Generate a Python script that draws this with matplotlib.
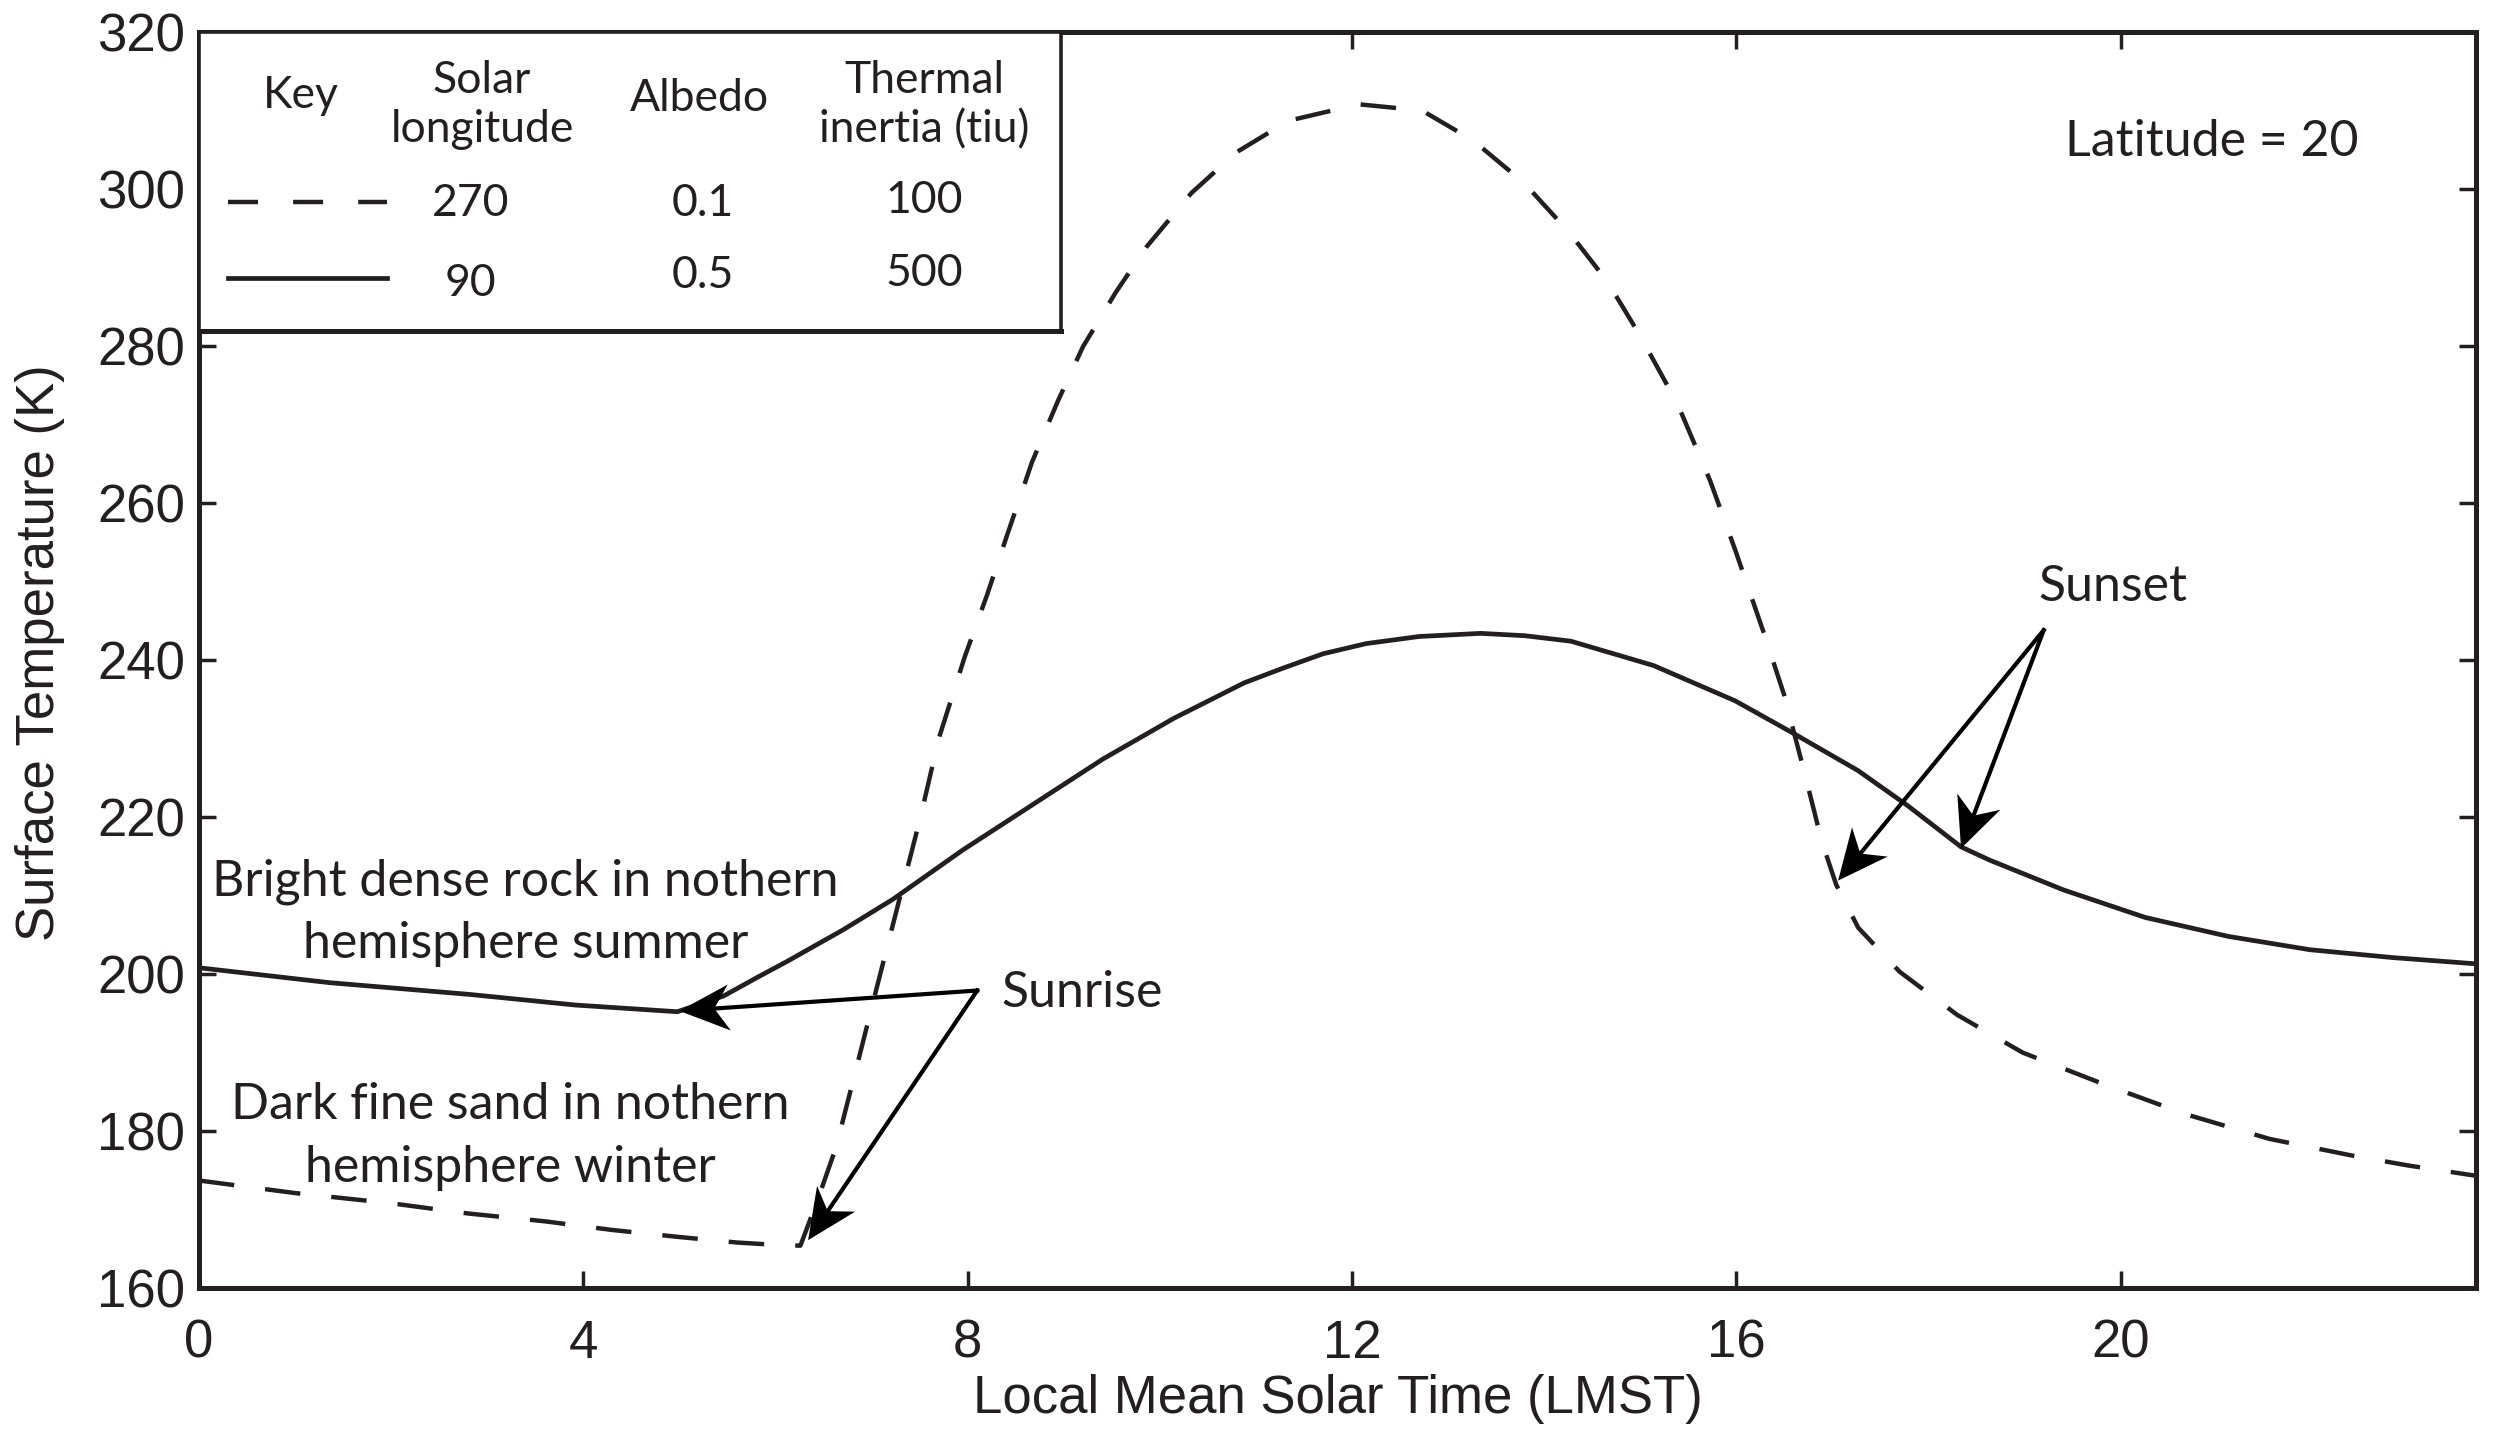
import numpy as np
import matplotlib
matplotlib.use("Agg")
import matplotlib.pyplot as plt
from matplotlib.patches import Rectangle, Polygon
from matplotlib.transforms import IdentityTransform

# Verdier lest av figuren (tid i LMST, temperatur i K)
time_sand = [0, 1.0, 2.0, 2.8, 3.6, 4.3, 5.0, 5.6, 6.0, 6.26, 6.45, 6.63, 6.85, 7.07,
             7.29, 7.51, 7.7, 7.97, 8.2, 8.4, 8.67, 8.94, 9.2, 9.54, 9.86, 10.33, 10.8,
             11.34, 12.07, 12.73, 13.26, 13.79, 14.26, 14.66, 15.0, 15.39, 15.73, 15.99,
             16.3, 16.5, 16.72, 16.89, 17.04, 17.27, 17.7, 18.3, 18.98, 19.84, 20.69,
             21.55, 22.4, 23.0, 23.7]
temp_sand = [173.7, 172.1, 170.8, 169.5, 168.5, 167.4, 166.5, 165.8, 165.5, 165.4, 171.6,
             177.9, 188.4, 199.0, 209.5, 220.0, 230.0, 240.4, 248.2, 255.5, 265.2, 273.0,
             279.9, 286.8, 292.6, 299.5, 304.7, 308.7, 310.8, 310.0, 306.2, 300.8, 294.5,
             288.2, 281.3, 272.6, 262.8, 254.0, 243.0, 235.5, 225.2, 216.9, 211.4, 205.9,
             200.3, 194.8, 190.0, 185.9, 182.1, 179.0, 176.9, 175.6, 174.3]

time_rock = [0, 1.36, 2.82, 3.92, 4.98, 5.46, 5.8, 6.12, 6.7, 7.22, 7.95, 8.68, 9.41,
             10.15, 10.88, 11.29, 11.7, 12.15, 12.7, 13.34, 13.8, 14.28, 15.14, 15.99,
             16.59, 17.27, 17.79, 18.34, 18.64, 19.41, 20.26, 21.12, 21.97, 22.83, 23.7]
temp_rock = [200.8, 198.9, 197.4, 196.05, 195.2, 197.2, 199.5, 201.6, 205.6, 209.5, 215.8,
             221.6, 227.4, 232.6, 237.1, 239.0, 240.8, 242.1, 243.0, 243.4, 243.1, 242.4,
             239.3, 234.8, 230.7, 225.9, 221.4, 216.2, 214.5, 210.7, 207.2, 204.8, 203.1,
             202.1, 201.3]

x_ticks = [0, 4, 8, 12, 16, 20]
y_ticks = [160, 180, 200, 220, 240, 260, 280, 300, 320]

key_header = ["Key", "Solar\nlongitude", "Albedo", "Thermal\ninertia (tiu)"]
key_sand = ["270", "0.1", "100"]
key_rock = ["90", "0.5", "500"]

# Piler: soloppgang og solnedgang
sunrise_from = (8.1, 197.9)
sunrise_to = [(5.0, 195.3), (6.34, 166.1)]
sunset_from = (19.2, 243.8)
sunset_to = [(17.06, 211.9), (18.34, 216.0)]

AX_FONT = "Liberation Sans"
TXT_FONT = "Lato"
INK = "#231f20"

fig = plt.figure(figsize=(24.93, 14.31), dpi=100)
ax = fig.add_axes([0.0798, 0.0999, 0.9134, 0.8777])

ax.plot(time_sand, temp_sand, color=INK, lw=3.2, dashes=(8, 7))
ax.plot(time_rock, temp_rock, color=INK, lw=3.4)

ax.set_xlim(0, 23.7)
ax.set_ylim(160, 320)
ax.set_xticks(x_ticks)
ax.set_yticks(y_ticks)
ax.tick_params(direction="in", length=12, width=2.5, top=True, right=True,
               labelsize=38, color=INK, labelcolor=INK)
ax.tick_params(axis="x", pad=22)
ax.tick_params(axis="y", pad=10)
for lab in ax.get_xticklabels() + ax.get_yticklabels():
    lab.set_fontfamily(AX_FONT)
for sp in ax.spines.values():
    sp.set_linewidth(3.6)
    sp.set_color(INK)

ax.set_xlabel("Local Mean Solar Time (LMST)", fontsize=38, family=AX_FONT, color=INK)
ax.set_ylabel("Surface Temperature (K)", fontsize=38, family=AX_FONT, color=INK)
ax.xaxis.set_label_coords(0.5, -0.0886)
ax.yaxis.set_label_coords(-0.0698, 0.506)
ax.xaxis.label.set_va("center")
ax.yaxis.label.set_va("center")


def arrow(start, tip, length=50, half=23, notch=0.7):
    # pil med innsvingt spiss, tegnet i pikselrom
    p0 = ax.transData.transform(start)
    p1 = ax.transData.transform(tip)
    d = (p1 - p0) / np.hypot(*(p1 - p0))
    n = np.array([-d[1], d[0]])
    base = p1 - d * length
    head = [p1, base + n * half, p1 - d * length * notch, base - n * half]
    ax.add_patch(Polygon(head, closed=True, transform=IdentityTransform(),
                         fc="black", ec="none", zorder=4))
    end = p1 - d * length * notch * 0.8
    ax.plot([p0[0], end[0]], [p0[1], end[1]], transform=IdentityTransform(),
            color="black", lw=3.0, zorder=4)


for tip in sunrise_to:
    arrow(sunrise_from, tip)
for tip in sunset_to:
    arrow(sunset_from, tip)

txt = dict(family=TXT_FONT, fontsize=36, color=INK)
ax.text(8.35, 197.6, "Sunrise", ha="left", va="center", **txt)
ax.text(19.92, 249.3, "Sunset", ha="center", va="center", **txt)
ax.text(20.95, 306, "Latitude = 20", ha="center", va="center", **txt)
ax.text(3.4, 207.8, "Bright dense rock in nothern\nhemisphere summer", ha="center",
        va="center", linespacing=1.45, **txt)
ax.text(3.24, 179.3, "Dark fine sand in nothern\nhemisphere winter", ha="center",
        va="center", linespacing=1.45, **txt)

# Nøkkelboks øverst til venstre
box = Rectangle((0, 0.762), 0.3785, 0.238, transform=ax.transAxes, fc="white",
                ec=INK, lw=2.6, zorder=5)
ax.add_patch(box)
ax.plot([0, 0.3785], [0.762, 0.762], transform=ax.transAxes, color=INK, lw=3.6,
        zorder=6, solid_capstyle="projecting")

col_x = [0.0447, 0.1194, 0.2214, 0.3184]
key_txt = dict(family=TXT_FONT, fontsize=32, color=INK, ha="center", va="center",
               zorder=7, transform=ax.transAxes)
ax.text(col_x[0], 0.9494, key_header[0], **key_txt)
ax.text(0.1243, 0.9418, key_header[1], linespacing=1.25, **key_txt)
ax.text(0.2200, 0.9468, key_header[2], **key_txt)
ax.text(col_x[3], 0.9418, key_header[3], linespacing=1.25, **key_txt)

ax.plot([0.0126, 0.0824], [0.8646, 0.8646], transform=ax.transAxes, color=INK,
        lw=3.2, dashes=(6.75, 7.9), zorder=7)
ax.plot([0.0126, 0.0824], [0.8038, 0.8038], transform=ax.transAxes, color=INK,
        lw=3.4, zorder=7)
sand_y = [0.8633, 0.8633, 0.8658]
rock_y = [0.800, 0.8063, 0.8076]
for i in range(3):
    ax.text(col_x[i + 1], sand_y[i], key_sand[i], **key_txt)
    ax.text(col_x[i + 1], rock_y[i], key_rock[i], **key_txt)

fig.savefig("out.png", dpi=100)
